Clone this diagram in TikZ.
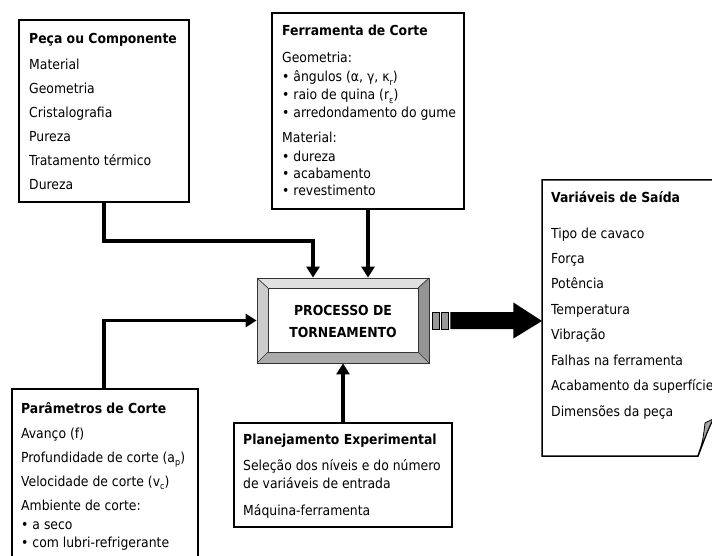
\documentclass[tikz,border=0pt]{standalone}
\usepackage{fontspec}
\setmainfont{DejaVu Sans Condensed}
\usetikzlibrary{arrows.meta,calc}
\newcommand\lsub[1]{\raisebox{-0.4ex}{\fontsize{9}{9}\selectfont #1}}
\begin{document}
\begin{tikzpicture}[x=1pt,y=-1pt,
  box/.style={draw, line width=1.8pt, fill=white, inner sep=0pt},
  conn/.style={line width=3.5pt, -{Triangle[width=13pt,length=11pt]}},
  tx/.style={anchor=base west, inner sep=0pt, font=\fontsize{13.8}{16}\selectfont},
  ttl/.style={anchor=base west, inner sep=0pt, font=\fontsize{13.8}{16}\selectfont\bfseries},
  ptx/.style={anchor=base, inner sep=0pt, font=\fontsize{13.8}{16}\selectfont\bfseries},
  bev/.style={draw=black!80, line width=0.7pt},
]
\useasboundingbox (0,0) rectangle (712,556);
\clip (0,0) rectangle (712,556);
\fill[white] (0,0) rectangle (712,556);

% ---------- boxes ----------
\node[box, minimum width=170pt, minimum height=182pt] (pc) at (104,111) {};
\node[box, minimum width=192pt, minimum height=196pt] (fc) at (368,111) {};
\node[box, minimum width=186pt, minimum height=180pt] (pr) at (105,479) {};
\node[box, minimum width=218pt, minimum height=104pt] (pe) at (343,475) {};

% output document shape
\draw[line width=1.5pt, fill=white] (542,180) -- (725,180) -- (725,418) -- (713,419)
  .. controls (707,432) .. (698,456) -- (542,456) -- cycle;
\draw[line width=0.8pt, fill=black!35] (698,456) .. controls (703,440) .. (705,423)
  -- (713,419) .. controls (707,432) .. (698,456) -- cycle;
\coordinate (vs) at (542,321);

% ---------- process box (bevel) ----------
\fill[black!12] (257,278) -- (429,278) -- (418,288) -- (268,288) -- cycle;
\fill[black!20] (257,278) -- (268,288) -- (268,352) -- (257,363) -- cycle;
\fill[black!42] (429,278) -- (429,363) -- (418,352) -- (418,288) -- cycle;
\fill[black!33] (257,363) -- (268,352) -- (418,352) -- (429,363) -- cycle;
\draw[bev, fill=white] (268,288) rectangle (418,352);
\draw[bev] (257,278) -- (268,288) (429,278) -- (418,288) (257,363) -- (268,352) (429,363) -- (418,352);
\node[draw=black!80, line width=0.8pt, inner sep=0pt, minimum width=172pt, minimum height=85pt] (proc) at (343,320.5) {};
\node[ptx] (procA) at (343,315) {PROCESSO DE};
\node[ptx] (procB) at (343,337.5) {TORNEAMENTO};

% ---------- texts: Peça ou Componente ----------
\node[ttl] (pc0) at (29,44) {Peça ou Componente};
\node[tx] (pc1) at (29,70) {Material};
\node[tx] (pc2) at (29,94) {Geometria};
\node[tx] (pc3) at (29,117.5) {Cristalografia};
\node[tx] (pc4) at (29,141.5) {Pureza};
\node[tx] (pc5) at (29,165.5) {Tratamento térmico};
\node[tx] (pc6) at (29,189.5) {Dureza};

% ---------- Ferramenta de Corte ----------
\node[ttl] (fc0) at (282,36) {Ferramenta de Corte};
\node[tx] (fc1) at (282,63) {Geometria:};
\node[tx] (fc2) at (282,82) {• ângulos (α, γ, κ\lsub{r})};
\node[tx] (fc3) at (282,100) {• raio de quina (r\lsub{ε})};
\node[tx] (fc4) at (282,118) {• arredondamento do gume};
\node[tx] (fc5) at (282,143) {Material:};
\node[tx] (fc6) at (282,162) {• dureza};
\node[tx] (fc7) at (282,179) {• acabamento};
\node[tx] (fc8) at (282,196) {• revestimento};

% ---------- Variáveis de Saída ----------
\node[ttl] (vs0) at (551,203) {Variáveis de Saída};
\node[tx] (vs1) at (551,238) {Tipo de cavaco};
\node[tx] (vs2) at (551,263) {Força};
\node[tx] (vs3) at (551,288.5) {Potência};
\node[tx] (vs4) at (551,314) {Temperatura};
\node[tx] (vs5) at (551,339) {Vibração};
\node[tx] (vs6) at (551,365) {Falhas na ferramenta};
\node[tx] (vs7) at (551,390.5) {Acabamento da superfície};
\node[tx] (vs8) at (551,416) {Dimensões da peça};

% ---------- Parâmetros de Corte ----------
\node[ttl] (pr0) at (21,413) {Parâmetros de Corte};
\node[tx] (pr1) at (21,438) {Avanço (f)};
\node[tx] (pr2) at (21,462) {Profundidade de corte (a\lsub{p})};
\node[tx] (pr3) at (21,486) {Velocidade de corte (v\lsub{c})};
\node[tx] (pr4) at (21,510) {Ambiente de corte:};
\node[tx] (pr5) at (21,529) {• a seco};
\node[tx] (pr6) at (21,547) {• com lubri-refrigerante};

% ---------- Planejamento Experimental ----------
\node[ttl] (pe0) at (243,444) {Planejamento Experimental};
\node[tx] (pe1) at (243,470) {Seleção dos níveis e do número};
\node[tx] (pe2) at (243,488) {de variáveis de entrada};
\node[tx] (pe3) at (243,515) {Máquina-ferramenta};

% ---------- connectors ----------
\draw[conn] (pc.south) -- ++(0,38) -| ([xshift=-30pt]proc.north);
\draw[conn] (fc.south) -- (fc.south |- proc.north);
\draw[conn] ([xshift=-1pt]pr.north) |- (proc.west);
\draw[conn] (pe.south |- pe.north) -- (proc.south);

% ---------- output arrow ----------
\draw[line width=0.6pt, fill=black!40] ($(proc.east)+(3,-8.5)$) rectangle ($(proc.east)+(10,8.5)$);
\draw[line width=0.6pt, fill=black!40] ($(proc.east)+(12,-8.5)$) rectangle ($(proc.east)+(19,8.5)$);
\fill[black] ($(proc.east)+(21,-8.5)$) -- ($(proc.east)+(84,-8.5)$) -- ($(proc.east)+(84,-18)$)
  -- (vs) -- ($(proc.east)+(84,18)$) -- ($(proc.east)+(84,8.5)$) -- ($(proc.east)+(21,8.5)$) -- cycle;
\end{tikzpicture}
\end{document}
